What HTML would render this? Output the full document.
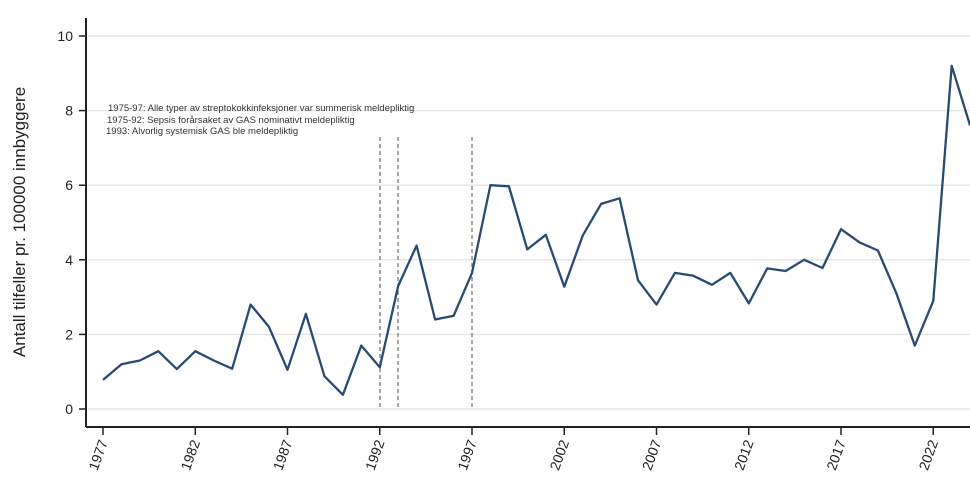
<!DOCTYPE html>
<html><head><meta charset="utf-8"><style>
html,body{margin:0;padding:0;background:#fff;}
svg{display:block;font-family:"Liberation Sans",sans-serif;}
</style></head><body>
<svg id="s" width="970" height="489" viewBox="0 0 970 489" xmlns="http://www.w3.org/2000/svg">
<g id="grid" stroke="#e6e6e6" stroke-width="1.5"></g>
<line x1="86" y1="18" x2="86" y2="427" stroke="#222" stroke-width="2"/>
<line x1="86" y1="427" x2="970" y2="427" stroke="#222" stroke-width="2"/>
<g id="yt" font-size="14" fill="#222" text-anchor="end"></g>
<g id="xt" font-size="14" fill="#222"></g>
<g stroke="#777" stroke-width="1.3" stroke-dasharray="4,3">
<line x1="380" y1="137" x2="380" y2="409"/>
<line x1="398" y1="137" x2="398" y2="409"/>
<line x1="472" y1="137" x2="472" y2="409"/>
</g>
<g font-size="9.5" fill="#333">
<text x="108" y="111">1975-97: Alle typer av streptokokkinfeksjoner var summerisk meldepliktig</text>
<text x="107" y="123">1975-92: Sepsis forårsaket av GAS nominativt meldepliktig</text>
<text x="106" y="134">1993: Alvorlig systemisk GAS ble meldepliktig</text>
</g>
<text transform="translate(25,222) rotate(-90)" font-size="17" fill="#222" text-anchor="middle">Antall tilfeller pr. 100000 innbyggere</text>
<polyline id="pl" fill="none" stroke="#284b73" stroke-width="2.3" stroke-linejoin="round"/>
</svg>
<script>
var d=[0.78,1.2,1.3,1.55,1.07,1.55,1.3,1.08,2.8,2.2,1.05,2.55,0.88,0.38,1.7,1.12,3.3,4.38,2.4,2.5,3.65,6.0,5.97,4.28,4.67,3.28,4.65,5.5,5.65,3.45,2.8,3.65,3.57,3.33,3.65,2.83,3.77,3.7,4.0,3.78,4.82,4.47,4.25,3.1,1.7,2.9,9.2,7.6];
function X(y){return 103+(y-1977)*18.45;}
function Y(v){return 409-v*37.3;}
var p=d.map(function(v,i){return X(1977+i).toFixed(1)+","+Y(v).toFixed(1);}).join(" ");
document.getElementById("pl").setAttribute("points",p);
var ns="http://www.w3.org/2000/svg",g=document.getElementById("grid"),yt=document.getElementById("yt"),xt=document.getElementById("xt");
for(var v=0;v<=10;v+=2){var l=document.createElementNS(ns,"line");l.setAttribute("x1",88);l.setAttribute("x2",970);l.setAttribute("y1",Y(v));l.setAttribute("y2",Y(v));g.appendChild(l);
var t=document.createElementNS(ns,"line");t.setAttribute("x1",79);t.setAttribute("x2",86);t.setAttribute("y1",Y(v));t.setAttribute("y2",Y(v));t.setAttribute("stroke","#222");t.setAttribute("stroke-width","1.5");yt.appendChild(t);
var tx=document.createElementNS(ns,"text");tx.setAttribute("x",73);tx.setAttribute("y",Y(v)+5);tx.textContent=v;yt.appendChild(tx);}
for(var y=1977;y<=2022;y+=5){var x=X(y);var t=document.createElementNS(ns,"line");t.setAttribute("x1",x);t.setAttribute("x2",x);t.setAttribute("y1",427);t.setAttribute("y2",435);t.setAttribute("stroke","#222");t.setAttribute("stroke-width","1.5");xt.appendChild(t);
var tx=document.createElementNS(ns,"text");tx.setAttribute("transform","translate("+(x+5)+",442) rotate(-70)");tx.setAttribute("text-anchor","end");tx.textContent=y;xt.appendChild(tx);}
</script>
</body></html>
